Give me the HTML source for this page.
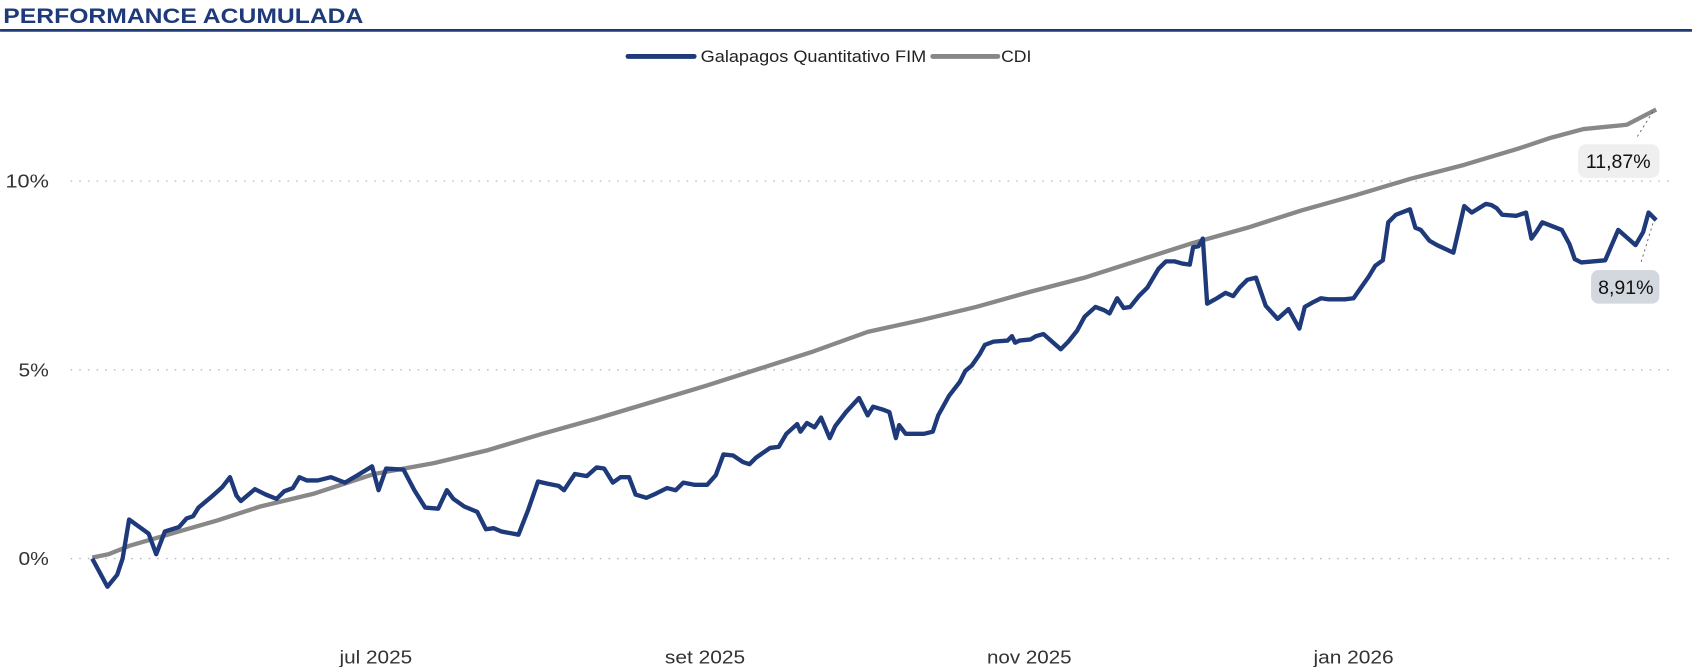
<!DOCTYPE html>
<html><head><meta charset="utf-8"><style>
html,body{margin:0;padding:0;background:#fff;}
svg{display:block;}
text{font-family:"Liberation Sans",sans-serif;}
</style></head><body>
<svg width="1692" height="667" viewBox="0 0 1560 615" xmlns="http://www.w3.org/2000/svg">
<text x="3" y="21" font-size="20" font-weight="bold" fill="#1f3a7a" textLength="332" lengthAdjust="spacingAndGlyphs">PERFORMANCE ACUMULADA</text>
<line x1="0" y1="28" x2="1560" y2="28" stroke="#1f3a7a" stroke-width="2.5"/>
<line x1="579" y1="52" x2="640" y2="52" stroke="#1f3a7a" stroke-width="4.5" stroke-linecap="round"/>
<text x="646" y="57" font-size="15" fill="#222" textLength="208" lengthAdjust="spacingAndGlyphs">Galapagos Quantitativo FIM</text>
<line x1="860" y1="52" x2="920" y2="52" stroke="#888" stroke-width="4.5" stroke-linecap="round"/>
<text x="923" y="57" font-size="15" fill="#222" textLength="28" lengthAdjust="spacingAndGlyphs">CDI</text>
<g stroke="#bbb" stroke-width="1.2" stroke-dasharray="1.5,6.5">
<line x1="65" y1="167" x2="1540" y2="167"/><line x1="65" y1="341" x2="1540" y2="341"/><line x1="65" y1="515" x2="1540" y2="515"/>
</g>
<g font-size="17" fill="#333" lengthAdjust="spacingAndGlyphs">
<text x="5" y="173" textLength="40" lengthAdjust="spacingAndGlyphs">10%</text><text x="17" y="347" textLength="28" lengthAdjust="spacingAndGlyphs">5%</text><text x="17" y="521" textLength="28" lengthAdjust="spacingAndGlyphs">0%</text>
<text x="313" y="612" textLength="67" lengthAdjust="spacingAndGlyphs">jul 2025</text>
<text x="613" y="612" textLength="74" lengthAdjust="spacingAndGlyphs">set 2025</text>
<text x="910" y="612" textLength="78" lengthAdjust="spacingAndGlyphs">nov 2025</text>
<text x="1211" y="612" textLength="74" lengthAdjust="spacingAndGlyphs">jan 2026</text>
</g>
<polyline fill="none" stroke="#888" stroke-width="4" stroke-linejoin="round" points="85,514 100,511 120,503 165,490 200,480 240,467 290,455 345,437 400,427 450,415 500,400 550,386 600,371 650,356 700,340 750,324 800,306 850,295 900,283 950,269 1000,256 1050,240 1100,224 1150,210 1200,194 1250,180 1300,165 1350,152 1400,137 1430,127 1460,119 1500,115 1527,101"/>
<polyline fill="none" stroke="#1f3a7a" stroke-width="4" stroke-linejoin="round" points="85,515 99,541 108,530 113,515 119,479 137,492 144,511 152,490 165,486 172,478 178,476 183,468 195,458 205,449 212,440 218,457 222,462 235,451 245,456 255,460 262,453 270,450 276,440 283,443 293,443 305,440 318,445 330,438 343,430 349,452 356,432 372,433 382,452 392,468 404,469 412,452 418,460 428,467 440,472 448,488 455,487 462,490 478,493 487,470 496,444 505,446 515,448 520,452 530,437 541,439 550,431 557,432 565,445 572,440 580,440 586,456 596,459 605,455 615,450 623,452 630,445 640,447 652,447 660,438 667,419 676,420 685,426 691,428 697,422 710,413 718,412 725,400 735,391 738,398 744,390 751,394 757,385 765,404 770,393 780,380 792,367 800,383 805,375 815,378 820,380 826,404 829,392 835,400 842,400 852,400 860,398 865,383 875,365 885,352 890,342 896,337 903,327 908,318 916,315 929,314 933,310 936,316 940,314 950,313 955,310 962,308 970,315 978,322 985,315 993,305 1000,292 1010,283 1018,286 1023,289 1030,275 1036,284 1042,283 1050,273 1058,265 1068,248 1075,241 1083,241 1090,243 1097,244 1100,228 1105,227 1109,220 1113,280 1122,275 1130,270 1137,273 1143,265 1150,258 1158,256 1167,282 1178,294 1188,285 1198,303 1203,283 1210,279 1218,275 1225,276 1232,276 1240,276 1248,275 1255,265 1262,255 1268,245 1275,240 1280,205 1287,198 1300,193 1305,210 1310,212 1318,222 1325,226 1340,233 1350,190 1357,196 1370,188 1375,189 1380,192 1385,198 1398,199 1407,196 1412,220 1417,213 1422,205 1440,212 1447,225 1452,239 1458,242 1480,240 1492,212 1508,226 1515,214 1520,196 1527,203"/>
<g stroke="#555" stroke-width="0.8" stroke-dasharray="2,3">
<line x1="1524" y1="103" x2="1509" y2="127"/><line x1="1524" y1="206" x2="1513" y2="242"/>
</g>
<rect x="1455" y="133" width="75" height="31" rx="7" fill="#efefef"/>
<text x="1492" y="155" font-size="18" fill="#111" text-anchor="middle">11,87%</text>
<rect x="1467" y="249" width="63" height="31" rx="7" fill="#d3d7de"/>
<text x="1499" y="271" font-size="18" fill="#111" text-anchor="middle">8,91%</text>
</svg>
</body></html>
